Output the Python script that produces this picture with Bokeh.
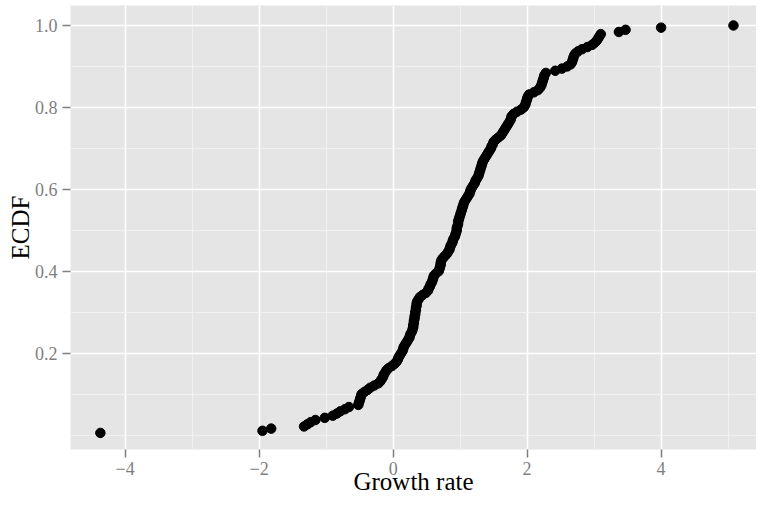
from bokeh.plotting import figure
from bokeh.models import FixedTicker, Range1d, PrintfTickFormatter, ColumnDataSource
from bokeh.embed import file_html
from bokeh.resources import INLINE

growth_rate = [
    -4.37, -1.95, -1.82, -1.33, -1.28, -1.23, -1.16, -1.02, -0.90, -0.84,
    -0.79, -0.72, -0.66, -0.52, -0.51, -0.50, -0.49, -0.48, -0.47, -0.43,
    -0.38, -0.34, -0.28, -0.22, -0.19, -0.17, -0.15, -0.14, -0.12, -0.10,
    -0.07, -0.02, 0.02, 0.05, 0.07, 0.08, 0.10, 0.12, 0.14, 0.15,
    0.16, 0.18, 0.20, 0.22, 0.24, 0.25, 0.26, 0.28, 0.29, 0.30,
    0.30, 0.31, 0.31, 0.32, 0.32, 0.33, 0.33, 0.34, 0.34, 0.35,
    0.35, 0.36, 0.38, 0.40, 0.44, 0.49, 0.52, 0.53, 0.55, 0.56,
    0.58, 0.59, 0.60, 0.61, 0.64, 0.68, 0.69, 0.70, 0.71, 0.71,
    0.72, 0.74, 0.77, 0.80, 0.82, 0.84, 0.85, 0.86, 0.88, 0.89,
    0.90, 0.92, 0.93, 0.94, 0.95, 0.95, 0.96, 0.97, 0.97, 0.98,
    0.99, 1.00, 1.01, 1.02, 1.03, 1.04, 1.05, 1.06, 1.08, 1.10,
    1.12, 1.14, 1.15, 1.16, 1.18, 1.20, 1.22, 1.23, 1.25, 1.27,
    1.28, 1.29, 1.30, 1.31, 1.32, 1.33, 1.34, 1.36, 1.38, 1.40,
    1.42, 1.44, 1.46, 1.47, 1.49, 1.50, 1.53, 1.57, 1.61, 1.63,
    1.65, 1.67, 1.69, 1.71, 1.73, 1.75, 1.76, 1.77, 1.80, 1.85,
    1.91, 1.95, 1.97, 1.98, 1.99, 2.00, 2.01, 2.03, 2.10, 2.16,
    2.19, 2.21, 2.22, 2.23, 2.24, 2.25, 2.26, 2.28, 2.42, 2.52,
    2.60, 2.65, 2.67, 2.68, 2.69, 2.70, 2.72, 2.76, 2.82, 2.90,
    2.97, 3.01, 3.04, 3.06, 3.08, 3.10, 3.37, 3.47, 4.00, 5.08,
]
n = len(growth_rate)
ecdf = [(i + 1) / n for i in range(n)]

x_ticks = [-4, -2, 0, 2, 4]
x_minor = [-3, -1, 1, 3, 5]
x_labels = {-4: "\u22124", -2: "\u22122", 0: "0", 2: "2", 4: "4"}
y_ticks = [0.2, 0.4, 0.6, 0.8, 1.0]
y_minor = [0.0, 0.1, 0.3, 0.5, 0.7, 0.9]

FONT = "Liberation Serif"
GREY = "#7F7F7F"

p = figure(width=756, height=497, output_backend="svg", toolbar_location=None,
           x_range=Range1d(-4.816, 5.424), y_range=Range1d(-0.0352, 1.0488),
           min_border_left=70, min_border_right=0, min_border_top=5, min_border_bottom=48)
p.background_fill_color = "#E5E5E5"
p.border_fill_color = "white"
p.outline_line_color = None

p.xaxis.ticker = FixedTicker(ticks=x_ticks, minor_ticks=x_minor)
p.yaxis.ticker = FixedTicker(ticks=y_ticks, minor_ticks=y_minor)
p.xaxis.major_label_overrides = x_labels
p.yaxis.formatter = PrintfTickFormatter(format="%.1f")

for ax in (p.xaxis, p.yaxis):
    ax.axis_line_color = None
    ax.major_tick_line_color = GREY
    ax.major_tick_line_width = 1.5
    ax.major_tick_out = 8
    ax.major_tick_in = 0
    ax.minor_tick_line_color = None
    ax.major_label_text_font = FONT
    ax.major_label_text_font_size = "18px"
    ax.major_label_text_color = GREY
    ax.axis_label_text_font = FONT
    ax.axis_label_text_font_size = "25px"
    ax.axis_label_text_font_style = "normal"
    ax.axis_label_text_color = "black"

p.xaxis.major_label_standoff = 4
p.xaxis.axis_label_standoff = -10
p.yaxis.major_label_standoff = 5
p.yaxis.axis_label_standoff = -2
p.xaxis.axis_label = "Growth rate"
p.yaxis.axis_label = "ECDF"

for g in (p.xgrid, p.ygrid):
    g.grid_line_color = "white"
    g.grid_line_width = 1.6
    g.minor_grid_line_color = "#F2F2F2"
    g.minor_grid_line_width = 0.9

src = ColumnDataSource(dict(x=growth_rate, y=ecdf))
p.scatter("x", "y", source=src, size=9.5, fill_color="black", line_color="black")

open("out.html", "w").write(file_html(p, INLINE))
